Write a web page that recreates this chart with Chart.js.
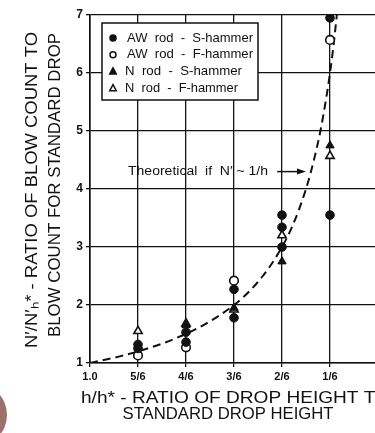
<!DOCTYPE html>
<html>
<head>
<meta charset="utf-8">
<script src="https://cdn.jsdelivr.net/npm/chart.js@4.4.1/dist/chart.umd.min.js"></script>
<style>
  body { margin: 0; background: #fff; overflow: hidden; width: 375px; height: 433px; position: relative; }
  #wrap { position: absolute; left: 0; top: 0; width: 400px; height: 433px; }
  #blob { position: absolute; left: -57px; top: 383px; width: 64px; height: 64px; border-radius: 50%; background: #9c726b; }
</style>
</head>
<body>
<div id="wrap"><canvas id="chart" width="400" height="433"></canvas></div>
<div id="blob"></div>
<script>
// x positions are h/h*, the axis runs from 1.0 down to 0
const tickValues = [1, 5/6, 4/6, 3/6, 2/6, 1/6, 0];
const tickLabels = ['1.0', '5/6', '4/6', '3/6', '2/6', '1/6', '0'];

// AW rod - S-hammer (filled circles)
const awSX = [5/6, 5/6, 4/6, 4/6, 3/6, 3/6, 2/6, 2/6, 2/6, 1/6, 1/6];
const awSY = [1.25, 1.32, 1.53, 1.36, 2.27, 1.78, 3.55, 3.34, 3.0, 6.95, 3.55];

// AW rod - F-hammer (open circles)
const awFX = [5/6, 4/6, 3/6, 1/6];
const awFY = [1.13, 1.27, 2.42, 6.57];

// N rod - S-hammer (filled triangles)
const nSX = [5/6, 4/6, 3/6, 2/6, 1/6];
const nSY = [1.3, 1.65, 1.95, 2.75, 4.75];

// N rod - F-hammer (open triangles)
const nFX = [5/6, 4/6, 3/6, 2/6, 1/6];
const nFY = [1.55, 1.68, 1.92, 3.2, 4.57];

// theoretical curve N' ~ 1/h
const theoX = [1, 0.9, 0.8, 0.7, 0.6, 0.5, 0.45, 0.4, 0.35, 0.3, 0.25, 0.22, 0.2, 0.18, 1/6, 0.155, 0.143, 0.135];
const theoY = [1, 1.11, 1.25, 1.43, 1.67, 2.0, 2.22, 2.5, 2.86, 3.33, 4.0, 4.55, 5.0, 5.56, 6.0, 6.45, 7.0, 7.4];

const legendLabels = ['AW  rod  -  S-hammer', 'AW  rod  -  F-hammer', 'N  rod  -  S-hammer', 'N  rod  -  F-hammer'];

const pts = (xs, ys) => xs.map((x, i) => ({ x: x, y: ys[i] }));
const INK = '#111';
const FONT = '"Liberation Sans", Arial, sans-serif';

// draw text stretched horizontally to a given width
function fitText(ctx, text, x, y, width, align) {
  const w = ctx.measureText(text).width;
  const k = width / w;
  ctx.save();
  ctx.textAlign = 'left';
  const x0 = align === 'center' ? x - width / 2 : x;
  ctx.translate(x0, y);
  ctx.scale(k, 1);
  ctx.fillText(text, 0, 0);
  ctx.restore();
}

function marker(ctx, style, filled, x, y, r) {
  ctx.save();
  ctx.beginPath();
  if (style === 'circle') {
    ctx.arc(x, y, r, 0, Math.PI * 2);
  } else {
    ctx.moveTo(x, y - r * 1.15);
    ctx.lineTo(x + r, y + r * 0.7);
    ctx.lineTo(x - r, y + r * 0.7);
    ctx.closePath();
  }
  ctx.fillStyle = filled ? INK : '#fff';
  ctx.fill();
  ctx.lineWidth = 1.5;
  ctx.strokeStyle = INK;
  ctx.stroke();
  ctx.restore();
}

const decorations = {
  id: 'decorations',
  afterDraw(chart) {
    const ctx = chart.ctx;
    const xs = chart.scales.x, ys = chart.scales.y;
    const ca = chart.chartArea;

    // legend box
    const bx = ca.left + 12, by = ca.top + 8, bw = 156, bh = 77;
    ctx.save();
    ctx.fillStyle = '#fff';
    ctx.fillRect(bx, by, bw, bh);
    ctx.lineWidth = 1.5;
    ctx.strokeStyle = INK;
    ctx.strokeRect(bx, by, bw, bh);
    ctx.font = '13px ' + FONT;
    ctx.fillStyle = INK;
    ctx.textBaseline = 'middle';
    const widths = [126, 126, 117, 113];
    chart.data.datasets.slice(0, 4).forEach((ds, i) => {
      const ly = by + 15 + i * 16.8;
      marker(ctx, ds.pointStyle, ds.backgroundColor === INK, bx + 11, ly, ds.pointStyle === 'circle' ? 3 : 3.3);
      fitText(ctx, legendLabels[i], bx + (i < 2 ? 25 : 23), ly, widths[i], 'left');
    });
    ctx.restore();

    // annotation for the dashed curve
    ctx.save();
    ctx.font = '12.5px ' + FONT;
    ctx.fillStyle = INK;
    ctx.textBaseline = 'middle';
    const ay = ys.getPixelForValue(4.3);
    fitText(ctx, 'Theoretical  if  N\u2032 ~ 1/h', xs.getPixelForValue(0.868), ay, 140, 'left');
    const a0 = xs.getPixelForValue(0.35), a1 = xs.getPixelForValue(0.25);
    ctx.lineWidth = 1.5;
    ctx.strokeStyle = INK;
    ctx.beginPath();
    ctx.moveTo(a0, ay);
    ctx.lineTo(a1 - 4, ay);
    ctx.stroke();
    ctx.beginPath();
    ctx.moveTo(a1, ay);
    ctx.lineTo(a1 - 9, ay - 3);
    ctx.lineTo(a1 - 9, ay + 3);
    ctx.closePath();
    ctx.fill();
    ctx.restore();

    // axis titles
    ctx.save();
    ctx.fillStyle = INK;
    ctx.font = '17px ' + FONT;
    ctx.textBaseline = 'middle';
    ctx.save();
    ctx.translate(32, 190);
    ctx.rotate(-Math.PI / 2);
    fitText(ctx, 'N\u2032/N\u2032\u2095* - RATIO OF BLOW COUNT TO', 0, 0, 316, 'center');
    ctx.restore();
    ctx.save();
    ctx.translate(55, 185);
    ctx.rotate(-Math.PI / 2);
    fitText(ctx, 'BLOW COUNT FOR STANDARD DROP', 0, 0, 304, 'center');
    ctx.restore();
    fitText(ctx, 'h/h* - RATIO OF DROP HEIGHT TO', 81, 398, 309, 'left');
    fitText(ctx, 'STANDARD DROP HEIGHT', 228, 414, 211, 'center');
    ctx.restore();
  }
};

new Chart(document.getElementById('chart'), {
  type: 'scatter',
  data: {
    datasets: [
      { label: legendLabels[0], data: pts(awSX, awSY), pointStyle: 'circle', pointRadius: 4.3, backgroundColor: INK, borderColor: INK, borderWidth: 1 },
      { label: legendLabels[1], data: pts(awFX, awFY), pointStyle: 'circle', pointRadius: 4.3, backgroundColor: '#fff', borderColor: INK, borderWidth: 1.6 },
      { label: legendLabels[2], data: pts(nSX, nSY), pointStyle: 'triangle', pointRadius: 4.8, backgroundColor: INK, borderColor: INK, borderWidth: 1 },
      { label: legendLabels[3], data: pts(nFX, nFY), pointStyle: 'triangle', pointRadius: 4.8, backgroundColor: '#fff', borderColor: INK, borderWidth: 1.6 },
      { label: 'Theoretical', data: pts(theoX, theoY), showLine: true, pointRadius: 0, borderColor: INK, borderWidth: 2, borderDash: [8, 5], cubicInterpolationMode: 'monotone', order: 10 }
    ]
  },
  options: {
    responsive: false,
    animation: false,
    layout: { padding: { top: 15, right: 22, left: 0, bottom: 0 } },
    plugins: { legend: { display: false }, tooltip: { enabled: false } },
    scales: {
      x: {
        type: 'linear', reverse: true, min: 0, max: 1,
        afterBuildTicks: s => { s.ticks = tickValues.map(v => ({ value: v })); },
        afterFit: s => { s.height = 70; },
        ticks: {
          callback: (v, i) => tickLabels[i],
          color: INK, font: { family: FONT, size: 11, weight: 'bold' }, padding: 3, maxRotation: 0, autoSkip: false
        },
        grid: { color: INK, lineWidth: 1.3, tickLength: 4 },
        border: { color: INK, width: 1.6 }
      },
      y: {
        min: 1, max: 7,
        afterFit: s => { s.width = 90; },
        ticks: { stepSize: 1, color: INK, font: { family: FONT, size: 12, weight: 'bold' }, padding: 3 },
        grid: { color: INK, lineWidth: 1.3, tickLength: 4 },
        border: { color: INK, width: 1.6 }
      }
    }
  },
  plugins: [decorations]
});
</script>
</body>
</html>
